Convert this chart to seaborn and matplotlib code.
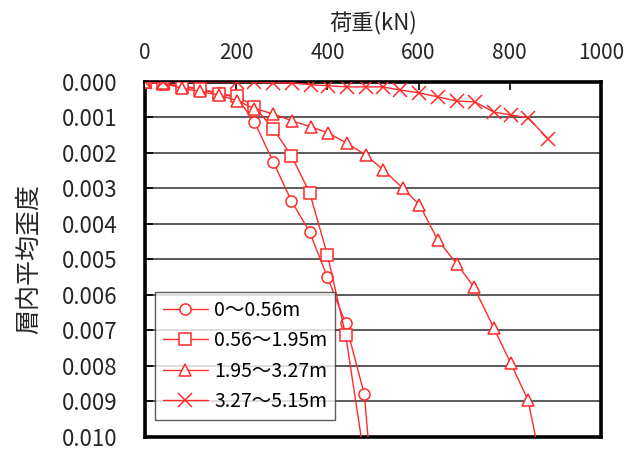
import numpy as np
import pandas as pd
import matplotlib
matplotlib.use("Agg")
import matplotlib.pyplot as plt
import seaborn as sns

sns.set_theme(style="white")
plt.rcParams['font.family'] = ['Noto Sans CJK JP', 'DejaVu Sans']

# ---- data ----
labels = ["0～0.56m", "0.56～1.95m", "1.95～3.27m", "3.27～5.15m"]

load_1 = [0, 40, 81, 121, 163, 202, 240, 281, 321, 361, 400, 440, 481, 501]
strain_1 = [0.0, 0.00005, 0.00012, 0.0002, 0.00032, 0.00045, 0.00113, 0.00225, 0.00335,
            0.00423, 0.0055, 0.0068, 0.0088, 0.0118]

load_2 = [0, 40, 81, 121, 163, 202, 240, 281, 321, 361, 400, 440, 487]
strain_2 = [0.0, 0.00005, 0.00014, 0.0002, 0.00034, 0.0004, 0.0007, 0.00132, 0.00208,
            0.00312, 0.00487, 0.00713, 0.0111]

load_3 = [0, 40, 81, 121, 163, 202, 240, 281, 323, 365, 402, 442, 484, 523, 565, 602,
          642, 684, 721, 765, 802, 840, 884]
strain_3 = [0.0, 0.00003, 0.00018, 0.00027, 0.00037, 0.00053, 0.00075, 0.0009, 0.0011,
            0.00127, 0.00144, 0.00172, 0.00206, 0.00248, 0.00299, 0.00346, 0.00445,
            0.00513, 0.00577, 0.00693, 0.00792, 0.00896, 0.0117]

load_4 = [0, 40, 202, 240, 281, 323, 365, 402, 442, 484, 521, 560, 602, 642, 684, 723,
          765, 802, 840, 884]
strain_4 = [0.0, 0.0, 0.0, 0.0, 0.00003, 0.00003, 0.00008, 0.00011, 0.00014, 0.00014,
            0.00014, 0.00023, 0.00031, 0.00042, 0.00054, 0.00056, 0.00085, 0.00093,
            0.00101, 0.0016]

x_ticks = [0, 200, 400, 600, 800, 1000]
y_ticks = [0.000, 0.001, 0.002, 0.003, 0.004, 0.005, 0.006, 0.007, 0.008, 0.009, 0.010]

series = [(load_1, strain_1, "o"), (load_2, strain_2, "s"),
          (load_3, strain_3, "^"), (load_4, strain_4, "x")]

red = "#FF2A2A"

fig = plt.figure(figsize=(6.42, 4.5), dpi=100)
ax = fig.add_axes([0.226, 0.029, 0.71, 0.789])

for (xs, ys, mk), lab in zip(series, labels):
    df = pd.DataFrame({"load": xs, "strain": ys})
    sns.lineplot(data=df, x="load", y="strain", sort=False, estimator=None, ax=ax,
                 color=red, linewidth=1.0, marker=mk, markersize=8 if mk != "x" else 10,
                 markerfacecolor="white" if mk != "x" else red,
                 markeredgecolor=red, markeredgewidth=1.1, label=lab, zorder=3)

ax.set_xlim(0, 1000)
ax.set_ylim(0.010, 0.000)
ax.set_xticks(x_ticks)
ax.set_yticks(y_ticks)
ax.set_yticklabels([f"{v:.3f}" for v in y_ticks])
ax.xaxis.tick_top()
ax.xaxis.set_label_position("top")
ax.tick_params(axis="x", direction="in", length=6, width=1.2, color="black",
               labelsize=15, pad=13, top=True, bottom=False)
ax.tick_params(axis="y", direction="in", length=6, width=1.2, color="black",
               labelsize=16, pad=20, left=True)
ax.set_xlabel("荷重(kN)", fontsize=16, labelpad=9)
ax.set_ylabel("層内平均歪度", fontsize=18, labelpad=14)

ax.yaxis.grid(True, color="#4d4d4d", linewidth=1.3)
ax.xaxis.grid(False)
for s in ax.spines.values():
    s.set_visible(True)
    s.set_color("black")
    s.set_linewidth(2.6)

leg = ax.legend(loc="upper left", bbox_to_anchor=(0.022, 0.408), borderaxespad=0,
                fontsize=14, frameon=True, fancybox=False, shadow=False,
                handlelength=2.3, handletextpad=0.35, borderpad=0.4, labelspacing=0.48)
leg.get_frame().set_edgecolor("#333333")
leg.get_frame().set_linewidth(1.0)
for t in leg.get_texts():
    t.set_color("black")

fig.savefig("out.png", dpi=100)
